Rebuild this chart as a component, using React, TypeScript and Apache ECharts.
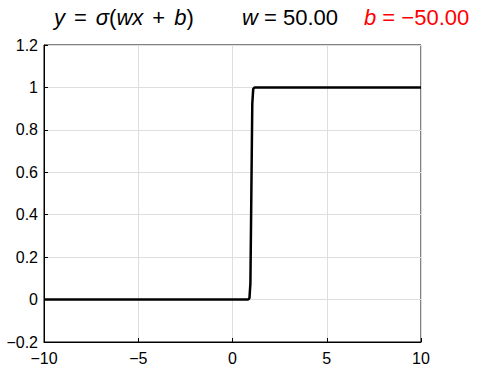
import React, { useEffect, useRef } from "react";
import * as echarts from "echarts";

const xValues = [-10, 0.8, 0.85, 0.9, 0.95, 1.0, 1.05, 1.1, 1.15, 1.2, 10];
const yValues = [0, 0.0003, 0.001, 0.007, 0.076, 0.5, 0.924, 0.993, 0.999, 0.9997, 1];
const xTicks = [-10, -5, 0, 5, 10];
const yTicks = [-0.2, 0, 0.2, 0.4, 0.6, 0.8, 1, 1.2];
const wValue = "50.00";
const bValue = "−50.00";

const fmt = (v: number) => String(parseFloat(Number(v).toFixed(2))).replace("-", "−");

export default function App() {
  const ref = useRef<HTMLDivElement>(null);
  useEffect(() => {
    if (!ref.current) return;
    const chart = echarts.init(ref.current, null, { renderer: "svg" });
    const tickFont = { fontFamily: "Liberation Sans", fontSize: 16, color: "#000" };
    const titleFont = "Liberation Sans";
    const rich = {
      i: { fontStyle: "italic" as const, fontFamily: titleFont, fontSize: 22, lineHeight: 26 },
      n: { fontFamily: titleFont, fontSize: 22, lineHeight: 26 },
      s: { fontFamily: titleFont, fontSize: 22, lineHeight: 26, width: 9 },
    };
    chart.setOption({
      animation: false,
      grid: {
        left: 44,
        right: 56,
        top: 45,
        bottom: 29,
        show: true,
        borderColor: "#000",
        borderWidth: 1,
        backgroundColor: "transparent",
      },
      graphic: [
        {
          type: "text",
          left: 54,
          top: 6,
          style: {
            text: "{i|y}{s| }{n|=}{s| }{i|σ}{n|(}{i|wx}{s| }{n|+}{s| }{i|b}{n|)}",
            rich,
            fill: "#000",
          },
        },
        {
          type: "text",
          left: 242,
          top: 6,
          style: {
            text: `{i|w}{n| = ${wValue}}`,
            rich,
            fill: "#000",
          },
        },
        {
          type: "text",
          left: 364,
          top: 6,
          style: {
            text: `{i|b}{n| = ${bValue}}`,
            rich: {
              i: { ...rich.i, color: "#ff0000" },
              n: { ...rich.n, color: "#ff0000" },
            },
            fill: "#ff0000",
          },
        },
      ],
      xAxis: {
        type: "value",
        min: xTicks[0],
        max: xTicks[xTicks.length - 1],
        interval: 5,
        axisLine: { show: true, onZero: false, lineStyle: { color: "#000", width: 1 } },
        axisTick: { show: true, inside: true, length: 4, lineStyle: { color: "#000" } },
        axisLabel: { ...tickFont, margin: 8, formatter: (v: number) => fmt(v) },
        splitLine: { show: true, lineStyle: { color: "#dedede", width: 1 } },
      },
      yAxis: {
        type: "value",
        min: yTicks[0],
        max: yTicks[yTicks.length - 1],
        interval: 0.2,
        axisLine: { show: true, onZero: false, lineStyle: { color: "#000", width: 1 } },
        axisTick: { show: true, inside: true, length: 4, lineStyle: { color: "#000" } },
        axisLabel: { ...tickFont, margin: 6, formatter: (v: number) => fmt(v) },
        splitLine: { show: true, lineStyle: { color: "#dedede", width: 1 } },
      },
      series: [
        {
          type: "line",
          data: xValues.map((x, i) => [x, yValues[i]]),
          showSymbol: false,
          symbol: "none",
          lineStyle: { color: "#000", width: 2.5 },
          smooth: false,
        },
      ],
    });
    return () => chart.dispose();
  }, []);
  return <div ref={ref} style={{ width: 477, height: 371, position: "absolute", left: 0, top: 0 }} />;
}
